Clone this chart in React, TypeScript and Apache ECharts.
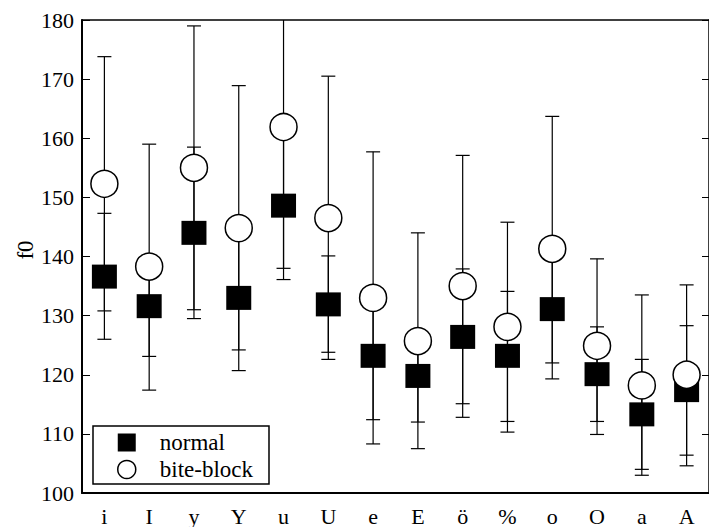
import React, { useEffect, useRef } from "react";
import * as echarts from "echarts";

const categories = ["i", "I", "y", "Y", "u", "U", "e", "E", "ö", "%", "o", "O", "a", "A"];

const normalMean = [136.6, 131.6, 144.0, 133.0, 148.6, 131.9, 123.2, 119.8, 126.4, 123.2, 131.1, 120.1, 113.3, 117.4];
const normalLow = [126.0, 123.1, 129.5, 124.2, 136.1, 123.8, 112.4, 112.0, 115.1, 112.1, 122.0, 112.1, 104.0, 106.4];
const normalHigh = [147.3, 140.1, 158.5, 143.0, 161.1, 140.1, 134.0, 127.6, 137.9, 134.1, 140.2, 128.1, 122.6, 128.3];

const biteMean = [152.3, 138.3, 155.0, 144.8, 161.9, 146.5, 133.0, 125.7, 135.0, 128.1, 141.3, 124.9, 118.2, 120.0];
const biteLow = [130.8, 117.4, 131.0, 120.7, 138.0, 122.6, 108.3, 107.5, 112.8, 110.3, 119.3, 109.9, 103.0, 104.6];
const biteHigh = [173.8, 159.0, 179.0, 168.9, 185.8, 170.5, 157.7, 144.0, 157.1, 145.8, 163.7, 139.6, 133.5, 135.2];

const seriesNames = ["normal", "bite-block"];
const yAxisTitle = "f0";

const FONT = "Liberation Serif";

function errSeries(name: string, low: number[], high: number[]) {
  return {
    type: "custom",
    name,
    silent: true,
    clip: true,
    z: 1,
    xAxisIndex: 0,
    yAxisIndex: 0,
    data: low.map((l, i) => [i, l, high[i]]),
    encode: { x: 0, y: [1, 2] },
    renderItem: (params: any, api: any) => {
      const x = api.value(0);
      const lo = api.coord([x, api.value(1)]);
      const hi = api.coord([x, api.value(2)]);
      const hw = 7;
      const style = { stroke: "#000", lineWidth: 1.2 };
      return {
        type: "group",
        children: [
          { type: "line", shape: { x1: lo[0], y1: lo[1], x2: hi[0], y2: hi[1] }, style },
          { type: "line", shape: { x1: lo[0] - hw, y1: lo[1], x2: lo[0] + hw, y2: lo[1] }, style },
          { type: "line", shape: { x1: hi[0] - hw, y1: hi[1], x2: hi[0] + hw, y2: hi[1] }, style },
        ],
      };
    },
  };
}

export default function App() {
  const ref = useRef<HTMLDivElement>(null);
  useEffect(() => {
    document.body.style.margin = "0";
    if (!ref.current) return;
    const chart = echarts.init(ref.current, undefined, { renderer: "svg" });
    const axisLineStyle = { color: "#000", width: 2 };
    chart.setOption({
      animation: false,
      backgroundColor: "#fff",
      textStyle: { fontFamily: FONT },
      grid: { left: 82, top: 20, width: 631, height: 474, containLabel: false },
      legend: {
        orient: "vertical",
        left: 93,
        top: 426,
        padding: [4, 16, 2, 24],
        borderColor: "#000",
        borderWidth: 1.5,
        backgroundColor: "#fff",
        itemWidth: 18,
        itemHeight: 18,
        itemGap: 2,
        selectedMode: false,
        textStyle: { fontFamily: FONT, fontSize: 23, color: "#000", lineHeight: 25, padding: [0, 0, 0, 19] },
        data: [
          { name: seriesNames[0], icon: "rect", itemStyle: { color: "#000", borderWidth: 0 } },
          {
            name: seriesNames[1],
            icon: "circle",
            itemStyle: { color: "#fff", borderColor: "#000", borderWidth: 1.5 },
          },
        ],
      },
      graphic: [
        {
          type: "text",
          x: 25,
          y: 250,
          rotation: Math.PI / 2,
          style: {
            text: yAxisTitle,
            fontFamily: FONT,
            fontSize: 23,
            fill: "#000",
            align: "center",
            verticalAlign: "middle",
          },
        },
      ],
      xAxis: [
        {
          type: "category",
          data: categories,
          position: "bottom",
          boundaryGap: true,
          axisLine: { lineStyle: axisLineStyle },
          axisTick: { inside: true, length: 5, alignWithLabel: true, lineStyle: { color: "#000", width: 1 } },
          axisLabel: { fontFamily: FONT, fontSize: 22, color: "#000", margin: 12 },
          splitLine: { show: false },
        },
        {
          type: "category",
          data: categories,
          position: "top",
          boundaryGap: true,
          axisLine: { lineStyle: { color: "#000", width: 1.5 } },
          axisTick: { inside: true, length: 5, alignWithLabel: true, lineStyle: { color: "#000", width: 1 } },
          axisLabel: { show: false },
          splitLine: { show: false },
        },
      ],
      yAxis: [
        {
          type: "value",
          min: 100,
          max: 180,
          interval: 10,
          position: "left",
          axisLine: { show: true, lineStyle: axisLineStyle },
          axisTick: { show: true, inside: true, length: 8, lineStyle: { color: "#000", width: 1 } },
          axisLabel: { fontFamily: FONT, fontSize: 22, color: "#000", margin: 8 },
          splitLine: { show: false },
        },
        {
          type: "value",
          min: 100,
          max: 180,
          interval: 10,
          position: "right",
          axisLine: { show: true, lineStyle: { color: "#000", width: 1.5 } },
          axisTick: { show: true, inside: true, length: 7, lineStyle: { color: "#000", width: 1 } },
          axisLabel: { show: false },
          splitLine: { show: false },
        },
      ],
      series: [
        errSeries("normal-err", normalLow, normalHigh),
        errSeries("bite-err", biteLow, biteHigh),
        {
          type: "scatter",
          name: seriesNames[0],
          xAxisIndex: 0,
          yAxisIndex: 0,
          z: 2,
          symbol: "rect",
          symbolSize: [25, 24],
          itemStyle: { color: "#000", opacity: 1 },
          data: normalMean.map((v, i) => [i, v]),
        },
        {
          type: "scatter",
          name: seriesNames[1],
          xAxisIndex: 0,
          yAxisIndex: 0,
          z: 3,
          symbol: "circle",
          symbolSize: 27,
          itemStyle: { color: "#fff", borderColor: "#000", borderWidth: 1.5, opacity: 1 },
          data: biteMean.map((v, i) => [i, v]),
        },
      ],
    });
    return () => chart.dispose();
  }, []);
  return <div ref={ref} style={{ width: 709, height: 527 }} />;
}
